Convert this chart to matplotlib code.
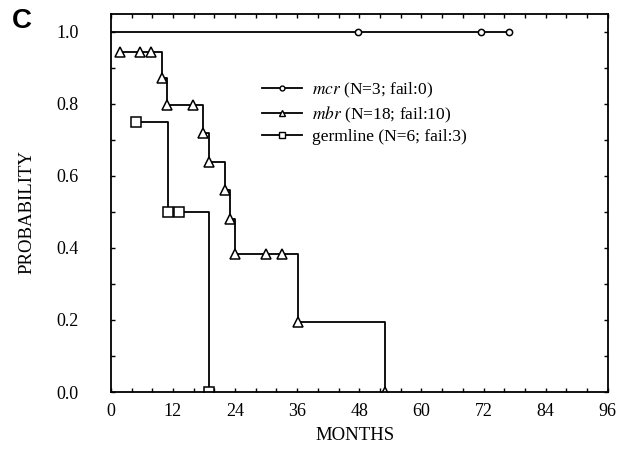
import matplotlib
matplotlib.use("Agg")
import matplotlib.pyplot as plt
from matplotlib.lines import Line2D
from matplotlib.ticker import MultipleLocator

plt.rcParams["font.family"] = ["Liberation Serif", "DejaVu Serif"]
plt.rcParams["mathtext.fontset"] = "stix"

# -----------------------
# Data
# -----------------------
mcr_times = [47.7, 71.5, 76.9]
mcr_surv = [1.0, 1.0, 1.0]

mbr_times = [1.8, 5.7, 7.7, 9.8, 10.9, 15.8, 17.9, 19.0, 22.0, 23.0, 23.9, 30.0, 33.0, 36.1, 53.0]
mbr_surv = [0.944, 0.944, 0.944, 0.873, 0.798, 0.798, 0.72, 0.638, 0.561, 0.48, 0.383, 0.383, 0.383, 0.193, 0.0]

germ_times = [4.9, 11.0, 13.1, 19.0]
germ_surv = [0.75, 0.5, 0.5, 0.0]

labels = [r"$\mathit{mcr}$ (N=3; fail:0)",
          r"$\mathit{mbr}$ (N=18; fail:10)",
          "germline (N=6; fail:3)"]

fig = plt.figure(figsize=(6.19, 4.62), dpi=100)
ax = fig.add_axes([0.179, 0.1515, 0.803, 0.8185])

lw = 1.3
# mcr: flat at 1.0 from time 0
ax.step([0] + mcr_times, [1.0] + mcr_surv, where="post", color="black", lw=lw)
ax.plot(mcr_times, mcr_surv, "o", ms=4.5, mfc="white", mec="black", mew=1.1)

ax.step(mbr_times, mbr_surv, where="post", color="black", lw=lw)
ax.plot(mbr_times, mbr_surv, "^", ms=7.5, mfc="white", mec="black", mew=1.1)

ax.step(germ_times, germ_surv, where="post", color="black", lw=lw)
ax.plot(germ_times, germ_surv, "s", ms=7, mfc="white", mec="black", mew=1.1)

ax.set_xlim(0, 96)
ax.set_ylim(0, 1.05)
ax.xaxis.set_major_locator(MultipleLocator(12))
ax.xaxis.set_minor_locator(MultipleLocator(4))
ax.yaxis.set_major_locator(MultipleLocator(0.2))
ax.yaxis.set_minor_locator(MultipleLocator(0.1))
ax.yaxis.set_major_formatter(plt.FuncFormatter(lambda v, p: f"{v:.1f}"))
ax.tick_params(which="both", direction="in", top=True, right=True, length=3, width=1)
ax.tick_params(axis="x", labelsize=13, pad=8)
ax.tick_params(axis="y", labelsize=13, pad=23)
for s in ax.spines.values():
    s.set_linewidth(1.3)

handles = [
    Line2D([], [], color="black", lw=lw, marker="o", ms=3.5, mfc="white", mec="black"),
    Line2D([], [], color="black", lw=lw, marker="^", ms=4, mfc="white", mec="black"),
    Line2D([], [], color="black", lw=lw, marker="s", ms=4, mfc="white", mec="black"),
]
fig.legend(handles, labels, loc="center left", bbox_to_anchor=(262 / 619, 1 - 113 / 462),
           frameon=False, fontsize=12.5, handlelength=2.3, handletextpad=0.6,
           labelspacing=0.25, borderpad=0, borderaxespad=0)

fig.text(355 / 619, 1 - 436 / 462, "MONTHS", ha="center", va="center", fontsize=13.5)
fig.text(27 / 619, 1 - 212 / 462, "PROBABILITY", ha="center", va="center",
         rotation=90, fontsize=13.5)
fig.text(22 / 619, 1 - 21 / 462, "C", ha="center", va="center", fontsize=20,
         fontweight="bold", family="Liberation Sans")

fig.savefig("out.png", dpi=100)
